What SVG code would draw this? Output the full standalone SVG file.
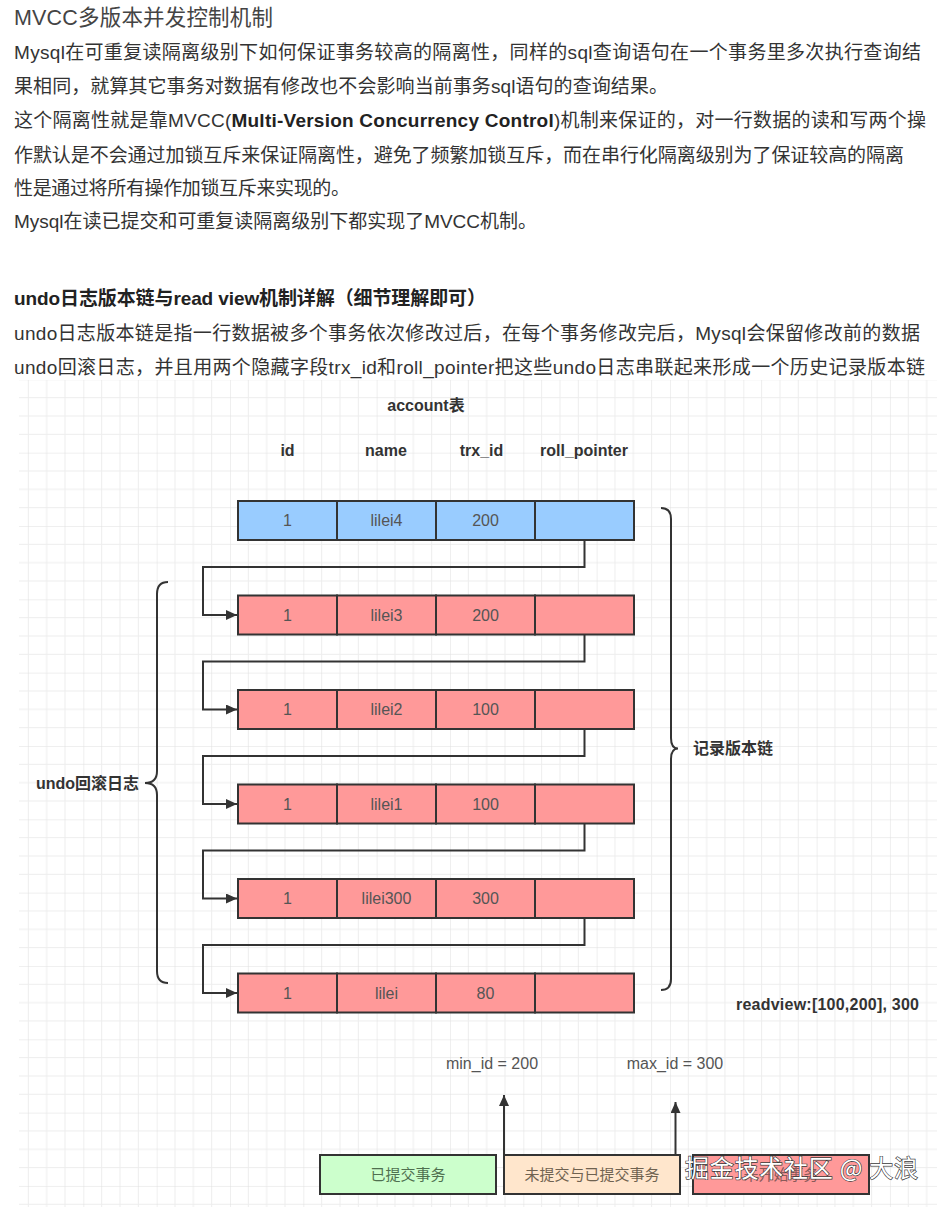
<svg xmlns="http://www.w3.org/2000/svg" width="950" height="1212" viewBox="0 0 950 1212">
<style>
  .t { font-family: "Liberation Sans", "Noto Sans CJK SC", sans-serif; }
  .body { font-size: 19px; fill: #333; }
  .title { font-size: 21.5px; fill: #444; }
  .head { font-size: 19px; font-weight: bold; fill: #222; }
  .lbl { font-size: 16px; font-weight: bold; fill: #333; }
  .cell { font-size: 16px; fill: #555; text-anchor: middle; }
  .bx { font-size: 15px; text-anchor: middle; }
  .row rect { stroke: #333; stroke-width: 2; }
  .blue { fill: #99CCFF; }
  .red { fill: #FF9999; }
  .conn { fill: none; stroke: #333; stroke-width: 2; }
</style>
<defs>
  <pattern id="grid" patternUnits="userSpaceOnUse" x="10" y="379.33" width="73.33" height="73.33">
    <path d="M18.33,0 V73.33 M36.67,0 V73.33 M55,0 V73.33 M0,18.33 H73.33 M0,36.67 H73.33 M0,55 H73.33" stroke="#ededed" stroke-width="1" fill="none"/>
    <path d="M0,0 V73.33 M0,0 H73.33" stroke="#e0e0e0" stroke-width="1" fill="none"/>
  </pattern>
  <marker id="arr" markerUnits="userSpaceOnUse" markerWidth="14" markerHeight="12" refX="11" refY="5" orient="auto">
    <path d="M0,0 L11,5 L0,10 z" fill="#333"/>
  </marker>
</defs>
<rect x="0" y="0" width="950" height="1212" fill="#fff"/>
<rect x="19" y="380" width="918" height="827" fill="url(#grid)"/>

<g id="text-top" class="t">
  <text class="title" x="14" y="25" textLength="259" lengthAdjust="spacing">MVCC多版本并发控制机制</text>
  <text class="body" x="14" y="59" textLength="907" lengthAdjust="spacing">Mysql在可重复读隔离级别下如何保证事务较高的隔离性，同样的sql查询语句在一个事务里多次执行查询结</text>
  <text class="body" x="14" y="93" textLength="654" lengthAdjust="spacing">果相同，就算其它事务对数据有修改也不会影响当前事务sql语句的查询结果。</text>
  <text class="body" x="14" y="127" textLength="912" lengthAdjust="spacing">这个隔离性就是靠MVCC(<tspan font-weight="bold" fill="#222">Multi-Version Concurrency Control</tspan>)机制来保证的，对一行数据的读和写两个操</text>
  <text class="body" x="14" y="162" textLength="890" lengthAdjust="spacing">作默认是不会通过加锁互斥来保证隔离性，避免了频繁加锁互斥，而在串行化隔离级别为了保证较高的隔离</text>
  <text class="body" x="14" y="195" textLength="336" lengthAdjust="spacing">性是通过将所有操作加锁互斥来实现的。</text>
  <text class="body" x="14" y="228" textLength="523" lengthAdjust="spacing">Mysql在读已提交和可重复读隔离级别下都实现了MVCC机制。</text>
  <text class="head" x="14" y="305" textLength="472" lengthAdjust="spacing">undo日志版本链与read view机制详解（细节理解即可）</text>
  <text class="body" x="14" y="340" textLength="906" lengthAdjust="spacing">undo日志版本链是指一行数据被多个事务依次修改过后，在每个事务修改完后，Mysql会保留修改前的数据</text>
  <text class="body" x="14" y="374" textLength="911" lengthAdjust="spacing">undo回滚日志，并且用两个隐藏字段trx_id和roll_pointer把这些undo日志串联起来形成一个历史记录版本链</text>
</g>

<g id="table-header" class="t">
  <text class="lbl" x="426" y="411" text-anchor="middle">account表</text>
  <text class="lbl" x="287.5" y="456" text-anchor="middle">id</text>
  <text class="lbl" x="386" y="456" text-anchor="middle">name</text>
  <text class="lbl" x="481.5" y="456" text-anchor="middle">trx_id</text>
  <text class="lbl" x="584" y="456" text-anchor="middle">roll_pointer</text>
</g>

<g id="row1" class="row t">
  <rect class="blue" x="238" y="501" width="99" height="39"/>
  <rect class="blue" x="337" y="501" width="99" height="39"/>
  <rect class="blue" x="436" y="501" width="99" height="39"/>
  <rect class="blue" x="535" y="501" width="99" height="39"/>
  <text class="cell" x="287.5" y="526">1</text>
  <text class="cell" x="386.5" y="526">lilei4</text>
  <text class="cell" x="485.5" y="526">200</text>
</g>
<g id="row2" class="row t">
  <rect class="red" x="238" y="595.5" width="99" height="39"/>
  <rect class="red" x="337" y="595.5" width="99" height="39"/>
  <rect class="red" x="436" y="595.5" width="99" height="39"/>
  <rect class="red" x="535" y="595.5" width="99" height="39"/>
  <text class="cell" x="287.5" y="620.5">1</text>
  <text class="cell" x="386.5" y="620.5">lilei3</text>
  <text class="cell" x="485.5" y="620.5">200</text>
</g>
<g id="row3" class="row t">
  <rect class="red" x="238" y="690" width="99" height="39"/>
  <rect class="red" x="337" y="690" width="99" height="39"/>
  <rect class="red" x="436" y="690" width="99" height="39"/>
  <rect class="red" x="535" y="690" width="99" height="39"/>
  <text class="cell" x="287.5" y="715">1</text>
  <text class="cell" x="386.5" y="715">lilei2</text>
  <text class="cell" x="485.5" y="715">100</text>
</g>
<g id="row4" class="row t">
  <rect class="red" x="238" y="784.5" width="99" height="39"/>
  <rect class="red" x="337" y="784.5" width="99" height="39"/>
  <rect class="red" x="436" y="784.5" width="99" height="39"/>
  <rect class="red" x="535" y="784.5" width="99" height="39"/>
  <text class="cell" x="287.5" y="809.5">1</text>
  <text class="cell" x="386.5" y="809.5">lilei1</text>
  <text class="cell" x="485.5" y="809.5">100</text>
</g>
<g id="row5" class="row t">
  <rect class="red" x="238" y="879" width="99" height="39"/>
  <rect class="red" x="337" y="879" width="99" height="39"/>
  <rect class="red" x="436" y="879" width="99" height="39"/>
  <rect class="red" x="535" y="879" width="99" height="39"/>
  <text class="cell" x="287.5" y="904">1</text>
  <text class="cell" x="386.5" y="904">lilei300</text>
  <text class="cell" x="485.5" y="904">300</text>
</g>
<g id="row6" class="row t">
  <rect class="red" x="238" y="973.5" width="99" height="39"/>
  <rect class="red" x="337" y="973.5" width="99" height="39"/>
  <rect class="red" x="436" y="973.5" width="99" height="39"/>
  <rect class="red" x="535" y="973.5" width="99" height="39"/>
  <text class="cell" x="287.5" y="998.5">1</text>
  <text class="cell" x="386.5" y="998.5">lilei</text>
  <text class="cell" x="485.5" y="998.5">80</text>
</g>

<g id="connectors">
  <path class="conn" d="M584.5,540 V567 H203 V615 H237" marker-end="url(#arr)"/>
  <path class="conn" d="M584.5,634.5 V661.5 H203 V709.5 H237" marker-end="url(#arr)"/>
  <path class="conn" d="M584.5,729 V756 H203 V804 H237" marker-end="url(#arr)"/>
  <path class="conn" d="M584.5,823.5 V850.5 H203 V898.5 H237" marker-end="url(#arr)"/>
  <path class="conn" d="M584.5,918 V945 H203 V993 H237" marker-end="url(#arr)"/>
  <path class="conn" d="M504,1155 V1095" marker-end="url(#arr)"/>
  <path class="conn" d="M675.5,1155 V1102" marker-end="url(#arr)"/>
</g>

<g id="brace-undo" class="t">
  <path class="conn" d="M168,582 Q157,582 157,594 L157,771 Q157,783 145,783 Q157,783 157,795 L157,971 Q157,983 168,983"/>
  <text class="lbl" x="36" y="789">undo回滚日志</text>
</g>
<g id="brace-chain" class="t">
  <path class="conn" d="M661,508 Q671,508 671,519 L671,738 Q671,748.5 678,748.5 Q671,748.5 671,759 L671,979 Q671,990 661,990"/>
  <text class="lbl" x="693" y="754">记录版本链</text>
</g>
<g id="readview" class="t">
  <text class="lbl" x="736" y="1010" textLength="183" lengthAdjust="spacing">readview:[100,200], 300</text>
</g>
<g id="min-id" class="t">
  <text class="cell" x="492" y="1069">min_id = 200</text>
</g>
<g id="max-id" class="t">
  <text class="cell" x="675" y="1069">max_id = 300</text>
</g>

<g id="box-committed" class="t">
  <rect x="320" y="1155" width="176" height="39" fill="#CCFFCC" stroke="#333" stroke-width="2"/>
  <text class="bx" x="408" y="1180" fill="#4f6f4f">已提交事务</text>
</g>
<g id="box-mixed" class="t">
  <rect x="504" y="1155" width="176" height="39" fill="#FFE6CC" stroke="#333" stroke-width="2"/>
  <text class="bx" x="592" y="1180" fill="#6f6250">未提交与已提交事务</text>
</g>
<g id="box-unstarted" class="t">
  <rect x="693" y="1155" width="176" height="39" fill="#FF9999" stroke="#333" stroke-width="2"/>
  <text class="bx" x="781" y="1180" fill="#8a5a5a">未开始事务</text>
</g>

<g id="watermark">
  <text x="685" y="1177" font-family="Noto Sans CJK SC, sans-serif" font-size="24" fill="#ffffff" stroke="#3a3a3a" stroke-width="1.3" paint-order="stroke" textLength="233" lengthAdjust="spacing">掘金技术社区 @ 大浪</text>
</g>
</svg>
